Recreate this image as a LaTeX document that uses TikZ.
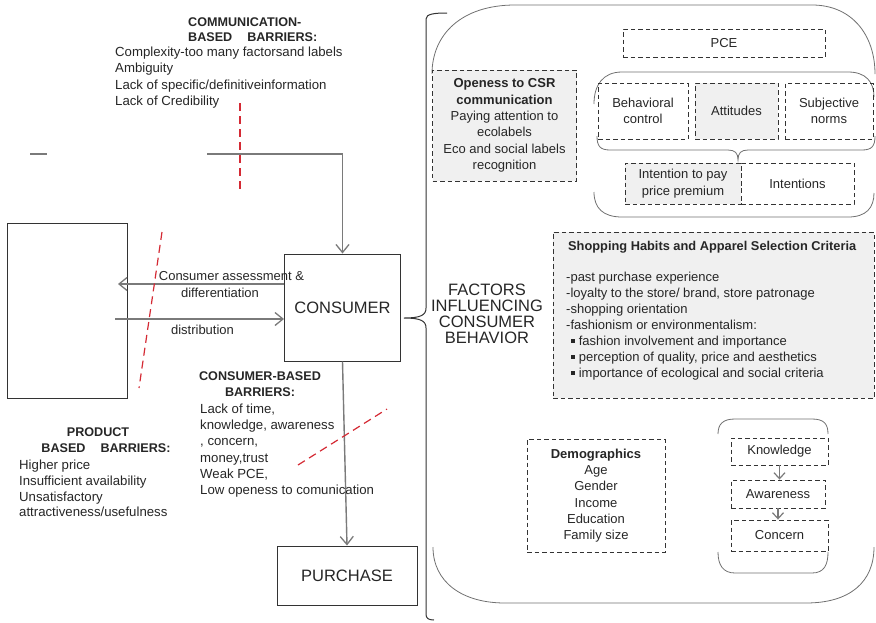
\documentclass[tikz,border=0pt]{standalone}
\usepackage{fontspec}
\setmainfont{Liberation Sans}
\usetikzlibrary{arrows.meta,calc}
\definecolor{ink}{HTML}{262626}
\definecolor{wire}{HTML}{7A7A7A}
\definecolor{frame}{HTML}{333333}
\definecolor{cutred}{HTML}{D42A34}
\definecolor{shade}{HTML}{F0F0F0}
\definecolor{outline}{HTML}{707070}

\begin{document}
\begin{tikzpicture}[x=1pt,y=-1pt,
  every node/.style={text=ink,inner sep=0pt,font=\fontsize{13}{16.3}\selectfont},
  body/.style={font=\fontsize{13.2}{16.3}\selectfont},
  head/.style={font=\fontsize{12.6}{15.5}\selectfont\bfseries},
  big/.style={font=\fontsize{16.5}{16.2}\selectfont},
  dbox/.style={draw=frame,dash pattern=on 4.5pt off 3pt,line width=0.9pt,align=center},
  shaded/.style={fill=shade},
  sbox/.style={draw=frame,line width=1pt},
  conn/.style={draw=wire,line width=1.4pt,-{Straight Barb[length=8pt,width=13pt,line width=1.3pt]}},
  smallconn/.style={draw=wire,line width=1.1pt,-{Straight Barb[length=6pt,width=11pt,line width=1.2pt]}},
  wireline/.style={draw=wire,line width=1.4pt},
  redcut/.style={draw=cutred,line width=1.2pt,dash pattern=on 8pt off 5pt},
  grp/.style={draw=outline,line width=0.8pt},
  bracestroke/.style={draw=frame,line width=1pt}
]
\useasboundingbox (0,0) rectangle (876,622);

% ---------- left side: boxes ----------
\node[sbox,minimum width=120pt,minimum height=175pt] (retail) at (67,310.5) {};
\node[sbox,minimum width=116pt,minimum height=107pt,big] (consumer) at (342.5,307.5) {CONSUMER};
\node[sbox,minimum width=140pt,minimum height=59pt,big] (purchase) at (347,575.5) {PURCHASE};

% ---------- connectors ----------
\coordinate (feedA) at (30,154);
\coordinate (feedB) at (47,154);
\coordinate (feedC) at (207,154);
\draw[wireline] (feedA) -- (feedB);
\draw[conn] (feedC) -| (consumer.north);

\coordinate (assess) at (118,284);
\draw[conn] (consumer.west |- assess) -- (assess);
\coordinate (distsrc) at (115,319);
\draw[conn] (distsrc) -- (consumer.west |- distsrc);
\draw[conn] (consumer.south) -- (purchase.north);

\node (assesslblA) at (231.5,276) {Consumer assessment \&};
\node (assesslblB) at (220,293) {differentiation};
\node (distlbl) at (202.5,330) {distribution};

% ---------- barrier cuts ----------
\draw[redcut] (240,103) -- (240,193);
\draw[redcut] (162,232) -- (139,388);
\draw[redcut] (298,465) -- (387,409);

% ---------- barrier texts ----------
\node[head,anchor=west,align=left] (commhead) at (188,29.5) {COMMUNICATION-\\BASED\hspace{15pt}BARRIERS:};
\node[body,anchor=west,align=left] (commlist) at (115,77.5)
  {Complexity-too many factorsand labels\\Ambiguity\\Lack of specific/definitiveinformation\\Lack of Credibility};

\node[head,align=center] (conshead) at (260,384) {CONSUMER-BASED\\BARRIERS:};
\node[body,anchor=west,align=left] (conslist) at (200,450.5)
  {Lack of time,\\knowledge, awareness\\, concern,\\money,trust\\Weak PCE,\\Low openess to comunication};

\node[head,align=center] (prodhead) at (106,440) {PRODUCT\hspace*{16pt}\\BASED\hspace{15pt}BARRIERS:};
\node[body,anchor=west,align=left,font=\fontsize{13.2}{15.7}\selectfont] (prodlist) at (19,488.5)
  {Higher price\\Insufficient availability\\Unsatisfactory\\attractiveness/usefulness};

% ---------- brace towards the factors ----------
\coordinate (bracetip) at (404,318);
\draw[bracestroke] (447,13) .. controls (434,13) and (426,14) .. (426,19) -- (426,308)
  .. controls (426,315) and (421,318) .. (bracetip)
  .. controls (421,318) and (426,321) .. (426,328) -- (426,614)
  .. controls (426,618) and (428,620) .. (434,620);
\node[big,align=center] (factors) at (487,314) {FACTORS\\INFLUENCING\\CONSUMER\\BEHAVIOR};

% ---------- outer factor area ----------
\draw[grp] (432,74) .. controls (432,34) and (462,5) .. (515,5) -- (812,5)
  .. controls (852,5) and (875,35) .. (875,74);
\draw[grp] (433,547) .. controls (433,582) and (462,603) .. (505,603) -- (806,603)
  .. controls (850,603) and (874,582) .. (874,547);

% ---------- openness ----------
\node[dbox,shaded,minimum width=144pt,minimum height=111pt] (openness) at (504.5,125.5)
  {\textbf{Openess to CSR}\\\textbf{communication}\\Paying attention to\\ecolabels\\Eco and social labels\\recognition};

% ---------- PCE and planned behaviour ----------
\node[dbox,minimum width=202pt,minimum height=28pt] (pce) at (724,43) {PCE};

\draw[grp] (594,104) .. controls (594,85) and (603,72) .. (622,72) -- (848,72)
  .. controls (866,72) and (874,82) .. (874,97);
\draw[grp] (594,192) .. controls (594,208) and (603,217) .. (622,217) -- (848,217)
  .. controls (866,217) and (874,208) .. (874,193);

\node[dbox,minimum width=90pt,minimum height=56pt] (behav) at (643,111) {Behavioral\\control};
\node[dbox,shaded,minimum width=83pt,minimum height=56pt] (attit) at (736.5,111) {Attitudes};
\node[dbox,minimum width=88pt,minimum height=56pt] (subj) at (829,111) {Subjective\\norms};

\coordinate (tpbtip) at (738,160);
\draw[grp] (597,136) .. controls (597,146) and (600,150) .. (610,150) -- (728,150)
  .. controls (735,150) and (738,153) .. (tpbtip)
  .. controls (738,153) and (741,150) .. (748,150) -- (862,150)
  .. controls (872,150) and (875,146) .. (875,136);

\node[dbox,shaded,minimum width=116pt,minimum height=41pt] (intpay) at (683,183.5) {Intention to pay\\price premium};
\node[dbox,minimum width=113pt,minimum height=41pt] (intent) at (797.5,183.5) {Intentions};

% ---------- shopping habits ----------
\node[dbox,shaded,minimum width=321pt,minimum height=166pt] (shopping) at (713.5,315) {};
\node[anchor=west,font=\fontsize{12.8}{16}\selectfont\bfseries] (shophead) at (568,247)
  {Shopping Habits and Apparel Selection Criteria};
\node[anchor=west,align=left,font=\fontsize{13}{16}\selectfont] (shoplist) at (566,326)
  {-past purchase experience\\
   -loyalty to the store/ brand, store patronage\\
   -shopping orientation\\
   -fashionism or environmentalism:\\
   \hspace*{5pt}\rule[2.6pt]{3.6pt}{3.6pt}\hspace{4pt}fashion involvement and importance\\
   \hspace*{5pt}\rule[2.6pt]{3.6pt}{3.6pt}\hspace{4pt}perception of quality, price and aesthetics\\
   \hspace*{5pt}\rule[2.6pt]{3.6pt}{3.6pt}\hspace{4pt}importance of ecological and social criteria};

% ---------- demographics ----------
\node[dbox,minimum width=138pt,minimum height=113pt] (demo) at (596,495.5)
  {\textbf{Demographics}\\Age\\Gender\\Income\\Education\\Family size};

% ---------- knowledge chain ----------
\draw[grp] (718,434) .. controls (718,424) and (723,419) .. (735,419) -- (812,419)
  .. controls (824,419) and (828,424) .. (828,434);
\draw[grp] (718,552) .. controls (718,565) and (723,573) .. (735,573) -- (812,573)
  .. controls (824,573) and (828,565) .. (828,552);

\node[dbox,minimum width=97pt,minimum height=27pt] (know) at (779.5,451.5) {Knowledge};
\node[dbox,minimum width=94pt,minimum height=28pt] (aware) at (778,494) {Awareness};
\node[dbox,minimum width=97pt,minimum height=31pt] (concern) at (779.5,535.5) {Concern};

\draw[smallconn] (know.south) -- (know.south |- aware.north);
\draw[smallconn] (aware.south) -- (aware.south |- concern.north);
\end{tikzpicture}
\end{document}
